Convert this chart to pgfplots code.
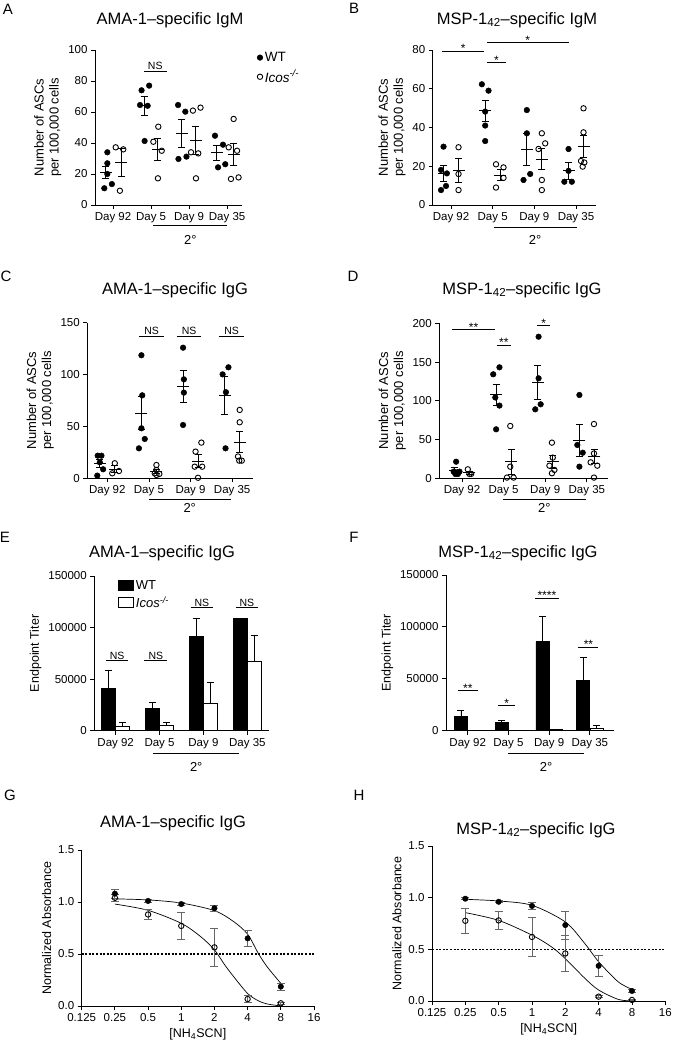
\documentclass[border=0pt]{standalone}
\usepackage{fontspec}
\setmainfont{Liberation Sans}
\usepackage{pgfplots}
\pgfplotsset{compat=1.18}
\pgfplotsset{
  base/.style={scale only axis, anchor=south west, clip=false, axis lines*=left,
    axis line style={line width=0.8pt}, every tick/.style={black,line width=0.8pt},
    tick align=outside, major tick length=4pt,
    tick label style={font=\fontsize{11.5}{12}\selectfont},
    /pgf/number format/assume math mode=true,
    ylabel style={font=\fontsize{13}{15}\selectfont, align=center},
    xlabel style={font=\fontsize{12.5}{14}\selectfont},
    scaled y ticks=false, /pgf/number format/1000 sep={}},
  cat/.style={base, xtick={1,2,3,4}, xticklabels={Day 92,Day 5,Day 9,Day 35}, ymin=0},
  asc/.style={cat, ylabel={Number of ASCs\\per 100,000 cells}},
  wt/.style={only marks, mark=*, mark size=2.8pt, mark options={fill=black, draw=black, line width=0.5pt}},
  ko/.style={only marks, mark=o, mark size=2.7pt, mark options={fill=white, draw=black, line width=0.9pt}},
  mn/.style={only marks, black, mark=-, mark size=6pt, mark options={line width=0.9pt, draw=black},
     error bars/y dir=both, error bars/y explicit, error bars/error mark=-,
     error bars/error mark options={rotate=90, mark size=3.5pt, line width=0.9pt, black},
     error bars/error bar style={line width=0.9pt, black}},
  boxleg/.style={legend image code/.code={\draw[##1] (0pt,-5pt) rectangle (15pt,5pt);}},
  bwt/.style={ybar, bar width=0.32, bar shift=0pt, fill=black, draw=black, line width=0.8pt, boxleg,
     error bars/y dir=plus, error bars/y explicit, error bars/error mark=-,
     error bars/error mark options={rotate=90, mark size=3.5pt, line width=0.8pt, black},
     error bars/error bar style={line width=0.8pt, black}},
  bko/.style={bwt, fill=white},
  cwt/.style={only marks, mark=*, mark size=2.7pt, mark options={fill=black, draw=black, line width=0.5pt},
     error bars/y dir=both, error bars/y explicit, error bars/error mark=-,
     error bars/error mark options={rotate=90, mark size=4pt, line width=0.9pt, black!60},
     error bars/error bar style={line width=0.9pt, black!60}},
  cko/.style={cwt, mark=o, mark options={fill=white, draw=black, line width=0.9pt}},
  curve/.style={smooth, no marks, black, line width=0.7pt},
  dline/.style={black, line width=1.4pt, dash pattern=on 2pt off 1.6pt},
  logax/.style={base, xmin=0.125, xmax=16,
     xtick={0.125,0.25,0.5,1,2,4,8,16}, xticklabels={0.125,0.25,0.5,1,2,4,8,16},
     ymin=0, ymax=1.5, ytick={0,0.5,1,1.5}, yticklabels={0.0,0.5,1.0,1.5},
     xlabel={[NH\textsubscript{4}SCN]}, ylabel={Normalized Absorbance},
     ylabel style={font=\fontsize{12.5}{14}\selectfont}},
  titer/.style={cat, ymax=150000, ytick={0,50000,100000,150000}, yticklabels={0,50000,100000,150000},
     ylabel={Endpoint Titer}, ylabel style={font=\fontsize{12.5}{14}\selectfont}},
}
\newcommand{\secline}[4]{%
  \draw[line width=0.6pt] ([yshift=-#3pt]axis cs:#1,0) -- ([yshift=-#3pt]axis cs:#2,0);
  \node[font=\fontsize{13}{14}\selectfont] at ([yshift=-#4pt]axis cs:{(#1+#2)/2},0) {2°};}
\newcommand{\sig}[4]{% x1 x2 y text
  \draw[line width=0.7pt] (axis cs:#1,#3) -- (axis cs:#2,#3);
  \node[anchor=south, inner sep=1pt, font=\fontsize{10.5}{11}\selectfont] at (axis cs:{(#1+#2)/2},#3) {#4};}
\newcommand{\sigstar}[4]{%
  \draw[line width=0.7pt] (axis cs:#1,#3) -- (axis cs:#2,#3);
  \node[anchor=south, inner sep=0pt, yshift=-2pt, font=\fontsize{12}{12}\selectfont] at (axis cs:{(#1+#2)/2},#3) {#4};}
\begin{document}
\begin{tikzpicture}
\path[use as bounding box] (0pt,0pt) rectangle (672pt,1044pt);
\tikzset{ttl/.style={font=\fontsize{16.5}{18}\selectfont}, ltr/.style={font=\fontsize{15}{16}\selectfont}}
\node[ltr] at (8pt,1035pt) {A};
\node[ltr] at (354pt,1036pt) {B};
\node[ltr] at (6pt,768pt) {C};
\node[ltr] at (353pt,768pt) {D};
\node[ltr] at (5pt,507pt) {E};
\node[ltr] at (354pt,507pt) {F};
\node[ltr] at (10pt,249pt) {G};
\node[ltr] at (359pt,249pt) {H};
\node[ttl] at (170pt,1024pt) {AMA-1–specific IgM};
\node[ttl] at (517pt,1024pt) {MSP-1\textsubscript{42}–specific IgM};
\node[ttl] at (175pt,754pt) {AMA-1–specific IgG};
\node[ttl] at (522pt,754pt) {MSP-1\textsubscript{42}–specific IgG};
\node[ttl] at (162pt,491pt) {AMA-1–specific IgG};
\node[ttl] at (518pt,491pt) {MSP-1\textsubscript{42}–specific IgG};
\node[ttl] at (173pt,221pt) {AMA-1–specific IgG};
\node[ttl] at (536pt,214pt) {MSP-1\textsubscript{42}–specific IgG};

% ---------- A ----------
\begin{axis}[asc, at={(95pt,839pt)}, width=147pt, height=155pt, xmin=0.526, xmax=4.39, ymax=100,
  ytick={0,20,40,60,80,100},
  legend style={at={(1,1)}, anchor=north west, xshift=12pt, yshift=2pt, draw=none, fill=none,
    font=\fontsize{13.5}{16}\selectfont, row sep=3pt, legend cell align=left}]
\addplot[wt] coordinates {(0.85,34) (0.85,26.9) (0.85,20) (0.97,13.5) (0.77,10.8)
 (1.75,74) (1.95,77) (1.71,64.5) (1.91,64) (1.83,41.3)
 (2.71,64.5) (2.9,60.2) (2.72,29.7) (2.93,31.2)
 (3.68,44.7) (3.89,38.9) (3.95,26.3) (3.76,24.3)};
\addlegendentry{WT}
\addplot[ko] coordinates {(1.07,37.2) (1.27,35.9) (1.18,9.2)
 (2.19,50.5) (2.06,40.8) (2.28,35) (2.18,17.2)
 (3.1,60.9) (3.3,62.8) (3.05,34) (3.24,33.3) (3.18,17.2)
 (4.17,55.5) (4.04,37.2) (4.26,35) (4.1,16.8) (4.3,17.8)};
\addlegendentry{\textit{Icos}\textsuperscript{\textit{-/-}}}
\addplot[forget plot, mn] coordinates {(0.81,20.9) +- (0,3.9) (1.82,64) +- (0,6.2) (2.8,46.4) +- (0,9) (3.72,33.6) +- (0,4.7)};
\addplot[forget plot, mn] coordinates {(1.21,27.3) +- (0,9) (2.17,36) +- (0,7) (3.17,41.6) +- (0,9) (4.17,32.5) +- (0,7)};
\sig{1.81}{2.41}{86.5}{NS}
\secline{2.06}{4.0}{20}{35}
\end{axis}

% ---------- B ----------
\begin{axis}[asc, at={(432.7pt,839pt)}, width=163.3pt, height=155pt, xmin=0.56, xmax=4.48, ymax=80,
  ytick={0,20,40,60,80}]
\addplot[wt] coordinates {(0.82,30.1) (0.76,18.1) (0.9,16.3) (0.88,9.8) (0.76,7.7)
 (1.74,62.3) (1.9,59) (1.82,48.2) (1.82,41) (1.82,33)
 (2.82,49) (2.82,37) (2.9,16) (2.74,12.9)
 (3.82,28.9) (3.82,17.6) (3.72,12) (3.9,12)};
\addplot[ko] coordinates {(1.18,29.8) (1.18,16) (1.18,7.7)
 (2.08,21) (2.26,19.4) (2.26,14) (2.08,9)
 (3.18,37) (3.26,31.8) (3.1,28.9) (3.18,12.9) (3.18,7.7)
 (4.18,49.9) (4.18,37.5) (4.12,22.7) (4.2,21.9) (4.16,19.8)};
\addplot[forget plot, mn] coordinates {(0.82,16.4) +- (0,4) (1.82,48.7) +- (0,5.4) (2.82,28.7) +- (0,8.4) (3.82,17.6) +- (0,4.3)};
\addplot[forget plot, mn] coordinates {(1.18,17.8) +- (0,6.2) (2.18,15.5) +- (0,2.6) (3.18,23.7) +- (0,5.5) (4.18,30.4) +- (0,5.7)};
\sigstar{0.78}{1.8}{79.5}{*}
\sigstar{1.86}{2.32}{73.5}{*}
\sigstar{1.86}{3.82}{84}{*}
\secline{2.02}{4.02}{22}{35}
\end{axis}

% ---------- C ----------
\begin{axis}[asc, at={(87.3pt,565.7pt)}, width=165.7pt, height=155.6pt, xmin=0.52, xmax=4.5, ymax=150,
  ytick={0,50,100,150}]
\addplot[wt] coordinates {(0.77,21.8) (0.86,21.8) (0.82,15.4) (0.9,8.7) (0.76,2.6)
 (1.82,118.6) (1.84,80) (1.82,48.2) (1.9,37.9) (1.76,28.9)
 (2.82,125.9) (2.84,95.4) (2.84,82.6) (2.82,51.4)
 (3.77,100.2) (3.91,107) (3.85,83) (3.84,28.9)};
\addplot[ko] coordinates {(1.18,14.5) (1.12,4.8) (1.28,7)
 (2.18,12.8) (2.18,8) (2.14,4.8) (2.25,4.2) (2.18,3.2)
 (3.26,34.4) (3.12,25.7) (3.1,11.2) (3.28,11.2) (3.18,0.5)
 (4.18,65.9) (4.18,54) (4.14,21) (4.17,17) (4.23,17)};
\addplot[forget plot, mn] coordinates {(0.82,14) +- (0,3.9) (1.82,62.7) +- (0,16) (2.82,88.8) +- (0,15.6) (3.82,79.8) +- (0,18)};
\addplot[forget plot, mn] coordinates {(1.18,8.8) +- (0,3.2) (2.18,6.6) +- (0,1.7) (3.18,16.5) +- (0,6.2) (4.18,35) +- (0,10.5)};
\sig{1.77}{2.36}{137.2}{NS}
\sig{2.67}{3.26}{137.2}{NS}
\sig{3.68}{4.29}{137.2}{NS}
\secline{2.0}{3.96}{20.7}{30}
\end{axis}

% ---------- D ----------
\begin{axis}[asc, at={(439.3pt,565.7pt)}, width=168.4pt, height=155pt, xmin=0.455, xmax=4.5, ymax=200,
  ytick={0,50,100,150,200}]
\addplot[wt] coordinates {(0.86,21.4) (0.8,8.6) (0.88,7.7) (0.84,5.6) (0.94,8.6) (0.9,5.5)
 (1.75,134.2) (1.9,143.2) (1.8,104.3) (1.9,93.8) (1.82,63.2)
 (2.84,182.7) (2.84,129) (2.89,95.5) (2.76,89)
 (3.82,107.5) (3.77,43) (3.9,33) (3.82,15)};
\addplot[ko] coordinates {(1.14,11.6) (1.18,5.6) (1.22,5.6)
 (2.16,67.5) (2.16,15) (2.08,0.9) (2.24,0.9)
 (3.16,46) (3.18,26.7) (3.1,16.3) (3.22,10.8) (3.16,6.5)
 (4.17,70) (4.17,32) (4.09,20.6) (4.25,16.3) (4.17,0.9)};
\addplot[forget plot, mn] coordinates {(0.82,10.6) +- (0,3) (1.82,107.7) +- (0,14) (2.82,124) +- (0,22) (3.82,49.2) +- (0,20.5)};
\addplot[forget plot, mn] coordinates {(1.18,7) +- (0,2) (2.18,21.1) +- (0,16) (3.18,21.2) +- (0,7.9) (4.18,28) +- (0,9)};
\sigstar{0.76}{1.8}{192.3}{**}
\sigstar{1.83}{2.18}{172}{**}
\sigstar{2.8}{3.12}{196.9}{*}
\secline{1.98}{3.98}{21}{30}
\end{axis}

% ---------- E ----------
\begin{axis}[titer, at={(94.3pt,313.3pt)}, width=175pt, height=154.7pt, xmin=0.513, xmax=4.5,
  legend style={at={(0.118,1.0)}, anchor=north west, draw=none, fill=none,
    font=\fontsize{13}{15}\selectfont, row sep=2pt, legend cell align=left}]
\addplot[bwt] coordinates {(0.84,41050) +- (0,17750) (1.84,21650) +- (0,5820) (2.84,91150) +- (0,17750) (3.84,108900) +- (0,0)};
\addlegendentry{WT}
\addplot[bko] coordinates {(1.16,3900) +- (0,4180) (2.16,5170) +- (0,3230) (3.16,26500) +- (0,20360) (4.16,66900) +- (0,25860)};
\addlegendentry{\textit{Icos}\textsuperscript{\textit{-/-}}}
\sig{0.78}{1.29}{67870}{NS}
\sig{1.65}{2.18}{67870}{NS}
\sig{2.71}{3.22}{119600}{NS}
\sig{3.73}{4.25}{119600}{NS}
\secline{1.85}{3.82}{22.6}{36}
\end{axis}

% ---------- F ----------
\begin{axis}[titer, at={(446pt,313.3pt)}, width=168.3pt, height=155.7pt, xmin=0.467, xmax=4.6]
\addplot[bwt] coordinates {(0.835,13550) +- (0,5810) (1.835,8080) +- (0,1620) (2.835,85650) +- (0,24250) (3.835,48800) +- (0,21340)};
\addplot[bko] coordinates {(2.165,300) +- (0,0) (3.165,970) +- (0,300) (4.165,2600) +- (0,2570)};
\sigstar{0.75}{1.26}{38460}{**}
\sigstar{1.75}{2.17}{24240}{*}
\sigstar{2.66}{3.23}{127670}{****}
\sigstar{3.72}{4.21}{80480}{**}
\secline{2.0}{3.85}{22.6}{36}
\end{axis}

% ---------- G ----------
\begin{axis}[xmode=log, log basis x=2, logax, at={(81.7pt,38pt)}, width=232.3pt, height=156pt]
\addplot[dline] coordinates {(0.125,0.5) (16,0.5)};
\addplot[curve] coordinates {(0.25,1.03) (0.5,1.02) (1,0.99) (2,0.917) (3,0.81) (4,0.69) (5,0.506) (6,0.378) (8,0.218)};
\addplot[curve] coordinates {(0.25,0.98) (0.5,0.92) (1,0.795) (1.5,0.667) (2,0.54) (2.5,0.39) (3,0.28) (4,0.12) (5,0.05) (6,0.02) (8,0.0)};
\addplot[cko] coordinates {(0.25,1.04) +- (0,0.03) (0.5,0.88) +- (0,0.05) (1,0.77) +- (0,0.13) (2,0.564) +- (0,0.185) (4,0.067) +- (0,0.035) (8,0.026) +- (0,0.01)};
\addplot[cwt] coordinates {(0.25,1.08) +- (0,0.045) (0.5,1.01) +- (0,0.015) (1,0.98) +- (0,0.015) (2,0.94) +- (0,0.03) (4,0.65) +- (0,0.08) (8,0.186) +- (0,0.035)};
\end{axis}

% ---------- H ----------
\begin{axis}[xmode=log, log basis x=2, logax, at={(432pt,43pt)}, width=233.3pt, height=155pt]
\addplot[dline] coordinates {(0.125,0.5) (16,0.5)};
\addplot[curve] coordinates {(0.25,0.984) (0.5,0.968) (1,0.926) (2,0.765) (3,0.556) (4,0.38) (6,0.186) (8,0.113)};
\addplot[curve] coordinates {(0.25,0.855) (0.5,0.78) (1,0.637) (1.5,0.524) (2,0.41) (3,0.22) (4,0.106) (6,0.016) (8,0.0)};
\addplot[cko] coordinates {(0.25,0.776) +- (0,0.118) (0.5,0.78) +- (0,0.09) (1,0.62) +- (0,0.19) (2,0.46) +- (0,0.17) (4,0.042) +- (0,0.01) (8,0.01) +- (0,0.005)};
\addplot[cwt] coordinates {(0.25,0.99) +- (0,0.01) (0.5,0.96) +- (0,0.01) (1,0.92) +- (0,0.035) (2,0.735) +- (0,0.135) (4,0.34) +- (0,0.105) (8,0.097) +- (0,0.01)};
\end{axis}
\end{tikzpicture}
\end{document}
